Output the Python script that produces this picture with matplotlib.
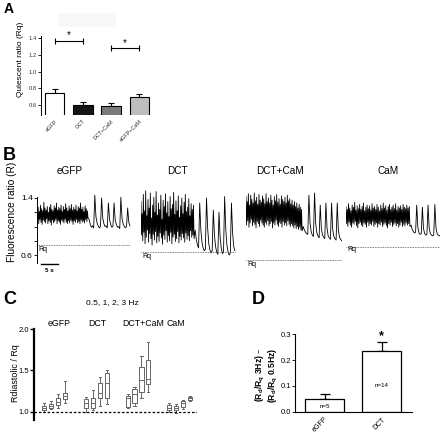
import numpy as np
import matplotlib
matplotlib.use("Agg")
import matplotlib.pyplot as plt
from matplotlib.patches import Rectangle

plt.rcParams['font.family'] = ['Liberation Sans', 'DejaVu Sans']

# === PANEL A DATA ===
a_groups = ['eGFP', 'DCT', 'DCT+CaM', 'eGFP+CaM']
a_means = [0.743, 0.607, 0.590, 0.700]
a_err = [0.052, 0.028, 0.035, 0.035]
a_colors = ['white', '#151515', '#7a7a7a', '#bdbdbd']
a_sig = [(0, 1, 1.37), (2, 3, 1.28)]

# === PANEL B DATA (fluorescence traces) ===
b_titles = ['eGFP', 'DCT', 'DCT+CaM', 'CaM']
b_rq = [0.74, 0.64, 0.53, 0.71]

eg_hi = [1.24, 1.27, 1.21, 1.30, 1.25, 1.22, 1.34, 1.26, 1.23, 1.28, 1.20, 1.27, 1.31, 1.24, 1.22,
         1.29, 1.26, 1.33, 1.23, 1.27, 1.25, 1.30, 1.21, 1.28, 1.24, 1.32, 1.26, 1.22, 1.29, 1.25,
         1.31, 1.23, 1.27, 1.24, 1.30, 1.22, 1.28, 1.26, 1.33, 1.24, 1.27, 1.21, 1.29, 1.25, 1.22]
eg_lo = [1.08, 1.04, 1.10, 1.06, 1.03, 1.09, 1.07, 1.05, 1.11, 1.04, 1.08, 1.06, 1.02, 1.09, 1.05,
         1.07, 1.10, 1.04, 1.08, 1.06, 1.03, 1.09, 1.07, 1.05, 1.10, 1.06, 1.04, 1.08, 1.05, 1.09,
         1.07, 1.03, 1.08, 1.06, 1.10, 1.05, 1.07, 1.04, 1.09, 1.06, 1.08, 1.05, 1.10, 1.07, 1.12]
eg_tail = [1.10, 1.03, 0.99, 1.01, 0.98, 1.44, 1.14, 1.05, 1.01, 0.98, 1.00, 1.40, 1.12, 1.04, 1.00,
           1.01, 0.98, 1.33, 1.10, 1.03, 0.99, 1.00, 1.33, 1.09, 1.03, 0.99, 1.00, 0.97, 1.41, 1.12,
           1.04, 1.00, 0.98, 1.00, 1.26, 1.06, 1.01]

dct_hi = [1.35, 1.18, 1.45, 1.22, 1.50, 1.15, 1.38, 1.26, 1.47, 1.12, 1.30, 1.41, 1.20, 1.49, 1.16,
          1.33, 1.24, 1.44, 1.10, 1.37, 1.28, 1.46, 1.19, 1.35, 1.14, 1.42, 1.25, 1.31, 1.48, 1.17,
          1.36, 1.22, 1.43, 1.13, 1.29, 1.40, 1.18, 1.34, 1.45, 1.21, 1.27, 1.39, 1.15, 1.32, 1.24, 1.30]
dct_lo = [0.88, 0.80, 0.92, 0.76, 0.85, 0.95, 0.78, 0.90, 0.83, 0.74, 0.89, 0.81, 0.93, 0.77, 0.86,
          0.79, 0.91, 0.84, 0.75, 0.88, 0.82, 0.94, 0.78, 0.87, 0.80, 0.92, 0.76, 0.85, 0.89, 0.79,
          0.83, 0.93, 0.77, 0.86, 0.81, 0.90, 0.84, 0.78, 0.91, 0.82, 0.87, 0.80, 0.94, 0.85, 0.88, 0.83]
dct_tail = [0.95, 0.82, 0.74, 0.70, 1.33, 0.95, 0.78, 0.70, 0.66, 0.68, 1.40, 0.98, 0.76, 0.67, 0.63,
            0.66, 1.23, 0.88, 0.72, 0.64, 0.61, 1.20, 0.86, 0.70, 0.62, 0.64, 1.42, 0.96, 0.74, 0.65,
            0.60, 0.63, 1.33, 0.92, 0.72, 0.66]

dc_hi = [1.42, 1.35, 1.46, 1.30, 1.44, 1.38, 1.33, 1.47, 1.36, 1.41, 1.31, 1.45, 1.37, 1.34, 1.43,
         1.39, 1.32, 1.46, 1.35, 1.40, 1.33, 1.44, 1.37, 1.30, 1.42, 1.36, 1.45, 1.34, 1.39, 1.31,
         1.43, 1.38, 1.35, 1.41, 1.33, 1.44, 1.36, 1.39, 1.32, 1.37, 1.30, 1.35, 1.28, 1.33, 1.26,
         1.31, 1.27, 1.24]
dc_lo = [1.02, 1.08, 0.99, 1.05, 1.10, 1.01, 1.06, 1.03, 0.98, 1.07, 1.04, 1.00, 1.09, 1.05, 1.02,
         0.99, 1.06, 1.03, 1.08, 1.01, 1.04, 1.07, 0.98, 1.05, 1.02, 1.09, 1.03, 1.00, 1.06, 1.04,
         0.99, 1.07, 1.02, 1.05, 1.01, 1.08, 1.03, 1.00, 1.04, 1.01, 0.98, 1.02, 0.97, 1.00, 0.96,
         0.99, 0.95, 0.94]
dc_tail = [1.00, 0.95, 0.92, 0.90, 0.89, 1.44, 1.05, 0.93, 0.88, 0.86, 1.47, 1.04, 0.91, 0.87, 0.84,
           1.30, 0.97, 0.88, 0.85, 0.83, 1.33, 0.98, 0.87, 0.84, 0.82, 1.33, 0.96, 0.86, 0.83, 0.81,
           1.33, 0.95, 0.85, 0.82, 0.80]

cm_hi = [1.28, 1.24, 1.32, 1.26, 1.22, 1.30, 1.27, 1.34, 1.23, 1.29, 1.25, 1.31, 1.24, 1.28, 1.33,
         1.22, 1.27, 1.30, 1.25, 1.29, 1.23, 1.32, 1.26, 1.28, 1.24, 1.31, 1.27, 1.22, 1.30, 1.25,
         1.33, 1.26, 1.29, 1.23, 1.28, 1.31, 1.24, 1.27, 1.30, 1.25, 1.32, 1.23, 1.28, 1.26, 1.29,
         1.24, 1.31, 1.27, 1.25, 1.30, 1.26, 1.28]
cm_lo = [1.04, 1.00, 1.06, 1.02, 0.99, 1.05, 1.03, 1.07, 1.01, 0.98, 1.04, 1.06, 1.02, 1.00, 1.05,
         1.03, 0.99, 1.06, 1.01, 1.04, 1.02, 1.07, 1.00, 1.03, 1.05, 0.99, 1.04, 1.02, 1.06, 1.00,
         1.03, 1.05, 1.01, 0.98, 1.04, 1.02, 1.06, 1.00, 1.03, 1.05, 1.01, 1.04, 0.99, 1.02, 1.06,
         1.00, 1.03, 1.01, 1.05, 1.02, 1.04, 1.00]
cm_tail = [1.02, 0.96, 0.93, 0.91, 0.92, 1.30, 0.99, 0.91, 0.89, 0.90, 1.27, 0.97, 0.90, 0.88, 0.89,
           1.30, 0.98, 0.90, 0.88, 0.87, 0.88, 1.31, 0.98, 0.90, 0.88, 0.87, 0.88]

b_dense_hi = [eg_hi, dct_hi, dc_hi, cm_hi]
b_dense_lo = [eg_lo, dct_lo, dc_lo, cm_lo]
b_tails = [eg_tail, dct_tail, dc_tail, cm_tail]
b_dense_dur = [15.0, 15.6, 16.5, 18.8]   # seconds of fast pacing
tail_dt = 1 / 3.0

# === PANEL C DATA (box stats: whislo, q1, med, q3, whishi) ===
c_groups = ['eGFP', 'DCT', 'DCT+CaM', 'CaM']
c_stats = [
    [(1.00, 1.02, 1.04, 1.07, 1.10), (1.03, 1.04, 1.065, 1.09, 1.13),
     (1.05, 1.08, 1.12, 1.16, 1.21), (1.11, 1.15, 1.19, 1.23, 1.37)],
    [(1.00, 1.04, 1.10, 1.15, 1.18), (1.02, 1.05, 1.11, 1.16, 1.26),
     (1.07, 1.17, 1.23, 1.35, 1.42), (1.09, 1.16, 1.35, 1.47, 1.51)],
    [(1.05, 1.06, 1.16, 1.19, 1.22), (1.07, 1.10, 1.22, 1.28, 1.30),
     (1.16, 1.24, 1.38, 1.54, 1.67), (1.24, 1.34, 1.40, 1.62, 1.84)],
    [(1.00, 1.02, 1.05, 1.08, 1.10), (0.99, 1.02, 1.04, 1.07, 1.09),
     (1.03, 1.06, 1.10, 1.13, 1.14), (1.13, 1.14, 1.16, 1.18, 1.19)],
]

# === PANEL D DATA ===
d_groups = ['eGFP', 'DCT']
d_means = [0.049, 0.235]
d_err = [0.018, 0.034]
d_n = ['n=5', 'n=14']

# === FIGURE ===
W, H = 440, 434
fig = plt.figure(figsize=(W / 100, H / 100), dpi=100)


def box(x0, y0, x1, y1):
    # pixel box -> figure fraction rect
    return [x0 / W, 1 - y1 / H, (x1 - x0) / W, (y1 - y0) / H]


def ftext(x, y, s, **kw):
    fig.text(x / W, 1 - y / H, s, **kw)


# panel letters
ftext(4, 9, 'A', fontsize=10, fontweight='bold', va='center')
ftext(3, 155, 'B', fontsize=13, fontweight='bold', va='center')
ftext(3, 300, 'C', fontsize=13, fontweight='bold', va='center')
ftext(252, 299, 'D', fontsize=13, fontweight='bold', va='center')

# faint leftover box above panel A
fig.patches.append(Rectangle((58 / W, 1 - 27 / H), 58 / W, 14 / H,
                             transform=fig.transFigure, color='#f8f8f8', lw=0))

# === A ===
axA = fig.add_axes(box(41, 36.4, 152, 114.5))
xA = np.arange(len(a_groups))
axA.bar(xA, a_means, width=0.69, color=a_colors, edgecolor='black', lw=0.8, zorder=2)
axA.errorbar(xA, a_means, yerr=[np.zeros(len(a_err)), a_err], fmt='none', ecolor='black',
             elinewidth=0.8, capsize=2.5, capthick=0.8, zorder=1)
axA.set_ylim(0.49, 1.42)
axA.set_xlim(-0.48, 3.45)
for s in ['top', 'right', 'bottom']:
    axA.spines[s].set_visible(False)
axA.spines['left'].set_linewidth(0.7)
axA.set_yticks([0.6, 0.8, 1.0, 1.2, 1.4])
axA.set_yticklabels(['0.6', '0.8', '1.0', '1.2', '1.4'], fontsize=4.2, color='#333333')
axA.tick_params(axis='y', length=2, width=0.6, pad=1)
axA.set_xticks(xA)
axA.set_xticklabels(a_groups, rotation=45, ha='right', rotation_mode='anchor',
                    fontsize=4, color='#333333')
axA.tick_params(axis='x', length=0, pad=3)
for i0, i1, yy in a_sig:
    axA.plot([i0, i1], [yy, yy], color='black', lw=0.8, marker='|', ms=4, mew=0.8)
    axA.text((i0 + i1) / 2, yy + 0.005, '*', ha='center', va='bottom', fontsize=7)
ftext(20, 59, 'Quiescent ratio (Rq)', fontsize=6, rotation=90, ha='center', va='center')

# === B ===
b_left = [37, 141, 246, 346]
b_width = [94, 95, 96, 94]
b_title_x = [70, 177, 280, 388]
b_rq_label_y = [250, 256, 264, 250]
px_per_s = 3.4
for k in range(4):
    ax = fig.add_axes(box(b_left[k], 187.3, b_left[k] + b_width[k], 263.6))
    dense = np.column_stack([b_dense_hi[k], b_dense_lo[k]]).ravel()
    t_dense = np.linspace(0, b_dense_dur[k], len(dense))
    tail = np.array(b_tails[k])
    t_tail = b_dense_dur[k] + np.arange(1, len(tail) + 1) * tail_dt
    t = np.concatenate([t_dense, t_tail])
    r = np.concatenate([dense, tail])
    ax.plot(t, r, color='black', lw=0.6)
    ax.hlines(b_rq[k], 0, t[-1], color='#555555', lw=0.6, linestyles=(0, (1, 1)))
    ax.set_xlim(0, b_width[k] / px_per_s)
    ax.set_ylim(0.48, 1.55)
    for s in ['top', 'right', 'bottom', 'left']:
        ax.spines[s].set_visible(False)
    ax.set_xticks([])
    if k == 0:
        ax.spines['left'].set_visible(True)
        ax.spines['left'].set_bounds(0.49, 1.41)
        ax.spines['left'].set_linewidth(0.7)
        ax.set_yticks([0.6, 1.4])
        ax.set_yticklabels(['0.6', '1.4'], fontsize=6)
        ax.set_yticks([0.8, 1.0, 1.2], minor=True)
        ax.tick_params(axis='y', which='both', length=2, width=0.6, pad=1)
        # 5 s scale bar
        ax.plot([1.2, 6.2], [0.47, 0.47], color='black', lw=1.0, clip_on=False)
        ax.text(3.7, 0.42, '5 s', fontsize=4.5, fontweight='bold', ha='center', va='top')
    else:
        ax.set_yticks([])
    ftext(b_title_x[k], 171, b_titles[k], fontsize=7.2, ha='center', va='center')
    ftext(b_left[k] + 1, b_rq_label_y[k], 'Rq', fontsize=5, ha='left', va='center')
ftext(12, 212, 'Fluorescence ratio (R)', fontsize=7.3, rotation=90, ha='center', va='center')

# === C ===
axC = fig.add_axes(box(34.3, 329, 197, 420))
stats, pos = [], []
for g, grp in enumerate(c_stats):
    for i, (lo, q1, med, q3, hi) in enumerate(grp):
        stats.append(dict(whislo=lo, q1=q1, med=med, q3=q3, whishi=hi, fliers=[]))
        pos.append(g * 6 + i)
gray = '#666666'
axC.bxp(stats, positions=pos, widths=0.6, capwidths=0.3, showfliers=False,
        boxprops=dict(color=gray, lw=0.7), whiskerprops=dict(color=gray, lw=0.7),
        capprops=dict(color=gray, lw=0.7), medianprops=dict(color=gray, lw=0.7))
axC.axhline(1.0, color='black', lw=0.9, ls=(0, (2, 1.5)))
axC.set_xlim(-1.44, 22)
axC.set_ylim(0.9, 2.0)
for s in ['top', 'right', 'bottom']:
    axC.spines[s].set_visible(False)
axC.spines['left'].set_linewidth(1.6)
axC.set_xticks([])
axC.set_yticks([1.0, 1.5, 2.0])
axC.set_yticklabels(['1.0', '1.5', '2.0'], fontsize=5.5)
axC.tick_params(axis='y', length=3, width=1.0, pad=1)
ftext(112.5, 303, '0.5, 1, 2, 3 Hz', fontsize=6, ha='center', va='center')
for lab, cx in zip(c_groups, [59.5, 97.5, 143, 176]):
    ftext(cx, 324, lab, fontsize=6.3, ha='center', va='center')
ftext(15, 373, 'Rdiastolic / Rq', fontsize=6.4, rotation=90, ha='center', va='center')

# === D ===
axD = fig.add_axes(box(295, 334.3, 412, 411.7))
xD = np.arange(len(d_groups))
axD.bar(xD, d_means, width=0.68, color='white', edgecolor='black', lw=0.9, zorder=2)
axD.errorbar(xD, d_means, yerr=[np.zeros(len(d_err)), d_err], fmt='none', ecolor='black',
             elinewidth=0.9, capsize=3.5, capthick=0.9, zorder=1)
axD.set_xlim(-0.52, 1.53)
axD.set_ylim(0, 0.3)
for s in ['top', 'right']:
    axD.spines[s].set_visible(False)
axD.spines['left'].set_linewidth(0.8)
axD.spines['bottom'].set_linewidth(0.8)
axD.set_yticks([0.0, 0.1, 0.2, 0.3])
axD.set_yticklabels(['0.0', '0.1', '0.2', '0.3'], fontsize=5.5)
axD.tick_params(axis='y', length=2, width=0.6, pad=1)
axD.set_xticks(xD)
axD.set_xticklabels(d_groups, rotation=45, ha='right', rotation_mode='anchor', fontsize=5)
axD.tick_params(axis='x', length=0, pad=3)
axD.text(0, 0.020, d_n[0], ha='center', va='center', fontsize=4.5)
axD.text(1, 0.100, d_n[1], ha='center', va='center', fontsize=4.5)
axD.text(1, d_means[1] + d_err[1] + 0.002, '*', ha='center', va='bottom', fontsize=9,
         fontweight='bold', clip_on=False)
ftext(260, 375, r'(R$_\mathregular{d}$/R$_\mathregular{q}$ 3Hz) –', fontsize=6.2,
      fontweight='bold', rotation=90, ha='center', va='center')
ftext(273.5, 375, r'(R$_\mathregular{d}$/R$_\mathregular{q}$ 0.5Hz)', fontsize=6.2,
      fontweight='bold', rotation=90, ha='center', va='center')

fig.savefig('out.png', dpi=100)
